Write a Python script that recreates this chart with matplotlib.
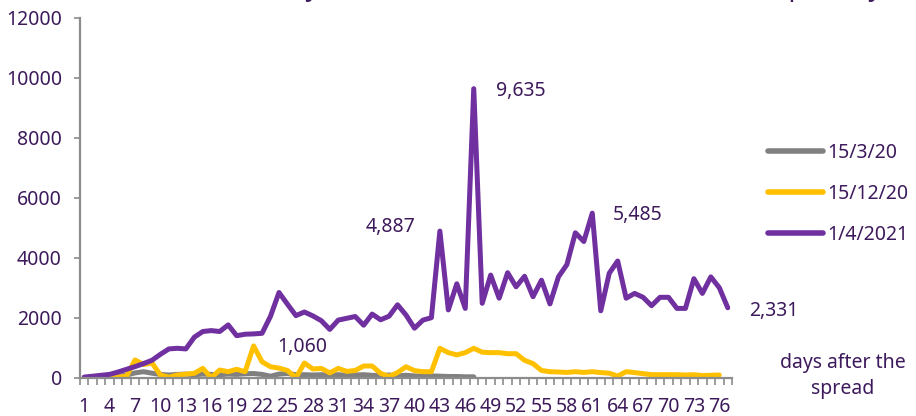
import matplotlib
matplotlib.use("Agg")
import matplotlib.pyplot as plt
import numpy as np

# Daily new cases, counted by days after the spread began
series_names = ["15/3/20", "15/12/20", "1/4/2021"]

wave_mar20 = [0, 5, 10, 20, 40, 90, 160, 200, 150, 110, 90, 110, 120, 100, 120,
              110, 100, 120, 110, 130, 140, 110, 50, 120, 140, 100, 100, 90, 100, 90,
              100, 80, 90, 100, 80, 70, 90, 60, 80, 60, 50, 60, 50, 40, 40, 30, 30]

wave_dec20 = [0, 0, 0, 0, 20, 50, 590, 440, 490, 90, 15, 90, 120, 145, 310,
              0, 255, 200, 280, 200, 1060, 530, 365, 320, 240, 0, 490, 290, 310, 160,
              310, 210, 240, 390, 390, 145, 40, 170, 365, 235, 200, 200, 980, 835, 760,
              835, 980, 850, 835, 835, 800, 800, 580, 470, 240, 200, 190, 175, 200, 175,
              200, 170, 150, 55, 200, 170, 135, 100, 100, 100, 100, 90, 100, 70, 80, 90]

wave_apr21 = [20, 50, 80, 110, 190, 280, 370, 470, 580, 780, 960, 980, 960, 1350, 1540,
              1570, 1540, 1760, 1400, 1450, 1460, 1480, 2050, 2840, 2450, 2070, 2190, 2060, 1900, 1610,
              1920, 1980, 2040, 1750, 2120, 1930, 2050, 2430, 2090, 1650, 1920, 2000, 4887, 2260, 3130,
              2310, 9635, 2480, 3420, 2650, 3500, 3030, 3380, 2700, 3250, 2460, 3360, 3770, 4830, 4540,
              5485, 2230, 3480, 3890, 2650, 2810, 2680, 2400, 2680, 2680, 2310, 2310, 3300, 2810, 3360,
              3000, 2331]

n_days = 77
day_labels = [str(d) for d in range(1, n_days + 1, 3)]
y_ticks = [0, 2000, 4000, 6000, 8000, 10000, 12000]

# values called out on the chart: (day, series, text offset in px)
callouts = [(21, wave_dec20, (24, -1)),
            (43, wave_apr21, (-74, 4)),
            (47, wave_apr21, (22, -2)),
            (61, wave_apr21, (21, -2)),
            (77, wave_apr21, (21, -3))]

PURPLE = "#7030A0"
YELLOW = "#FFC000"
GREY = "#808080"
TEXT = "#3D1A5B"
AXIS = "#8C8C8C"
FONT = "Noto Sans"
FS = 14

plt.rcParams["font.family"] = [FONT, "DejaVu Sans"]

fig = plt.figure(figsize=(9.16, 4.16), dpi=100)
ax = fig.add_axes([80 / 916, 38.3 / 416, 652 / 916, 360 / 416])

colors = [GREY, YELLOW, PURPLE]
for name, vals, col in zip(series_names, [wave_mar20, wave_dec20, wave_apr21], colors):
    days = np.arange(1, len(vals) + 1)
    ax.plot(days, vals, color=col, lw=3.6, label=name,
            solid_joinstyle="round", solid_capstyle="round")

for day, vals, off in callouts:
    v = vals[day - 1]
    ax.annotate(f"{v:,}", xy=(day, v), xytext=off, textcoords="offset pixels",
                ha="left", va="center", color=TEXT, fontsize=FS)

ax.set_xlim(0.5, n_days + 0.5)
ax.set_ylim(0, 12000)

ax.set_yticks(y_ticks)
ax.set_yticklabels([str(t) for t in y_ticks])
ax.set_xticks(np.arange(1, n_days + 1, 3))
ax.set_xticklabels(day_labels)
ax.set_xticks(np.arange(0.5, n_days + 1, 1.0), minor=True)

ax.tick_params(axis="y", length=4, width=1.2, color=AXIS, pad=9,
               labelsize=FS, labelcolor=TEXT)
ax.tick_params(axis="x", which="major", length=0, pad=14,
               labelsize=FS, labelcolor=TEXT)
ax.tick_params(axis="x", which="minor", length=5, width=1.2, color=AXIS)

for s in ["top", "right"]:
    ax.spines[s].set_visible(False)
for s in ["left", "bottom"]:
    ax.spines[s].set_color(AXIS)
    ax.spines[s].set_linewidth(1.6)

leg = ax.legend(loc="upper left", bbox_to_anchor=(760 / 916, 1 - 135 / 416),
                bbox_transform=fig.transFigure, frameon=False,
                fontsize=FS, handlelength=2.85, handletextpad=0.2,
                labelspacing=1.08, borderaxespad=0)
for t in leg.get_texts():
    t.set_color(TEXT)
for h in leg.get_lines():
    h.set_linewidth(4.0)
    h.set_solid_capstyle("round")

fig.text(843 / 916, 1 - 376 / 416, "days after the\nspread", ha="center", va="center",
         color=TEXT, fontsize=FS, linespacing=1.45)

# chart heading sits mostly above the canvas edge
fig.text(890 / 916, 1 + 4.5 / 416, "Daily new confirmed cases in three waves (per day)",
         ha="right", va="baseline", color=TEXT, fontsize=19, fontweight="bold")

fig.savefig("out.png", dpi=100)
